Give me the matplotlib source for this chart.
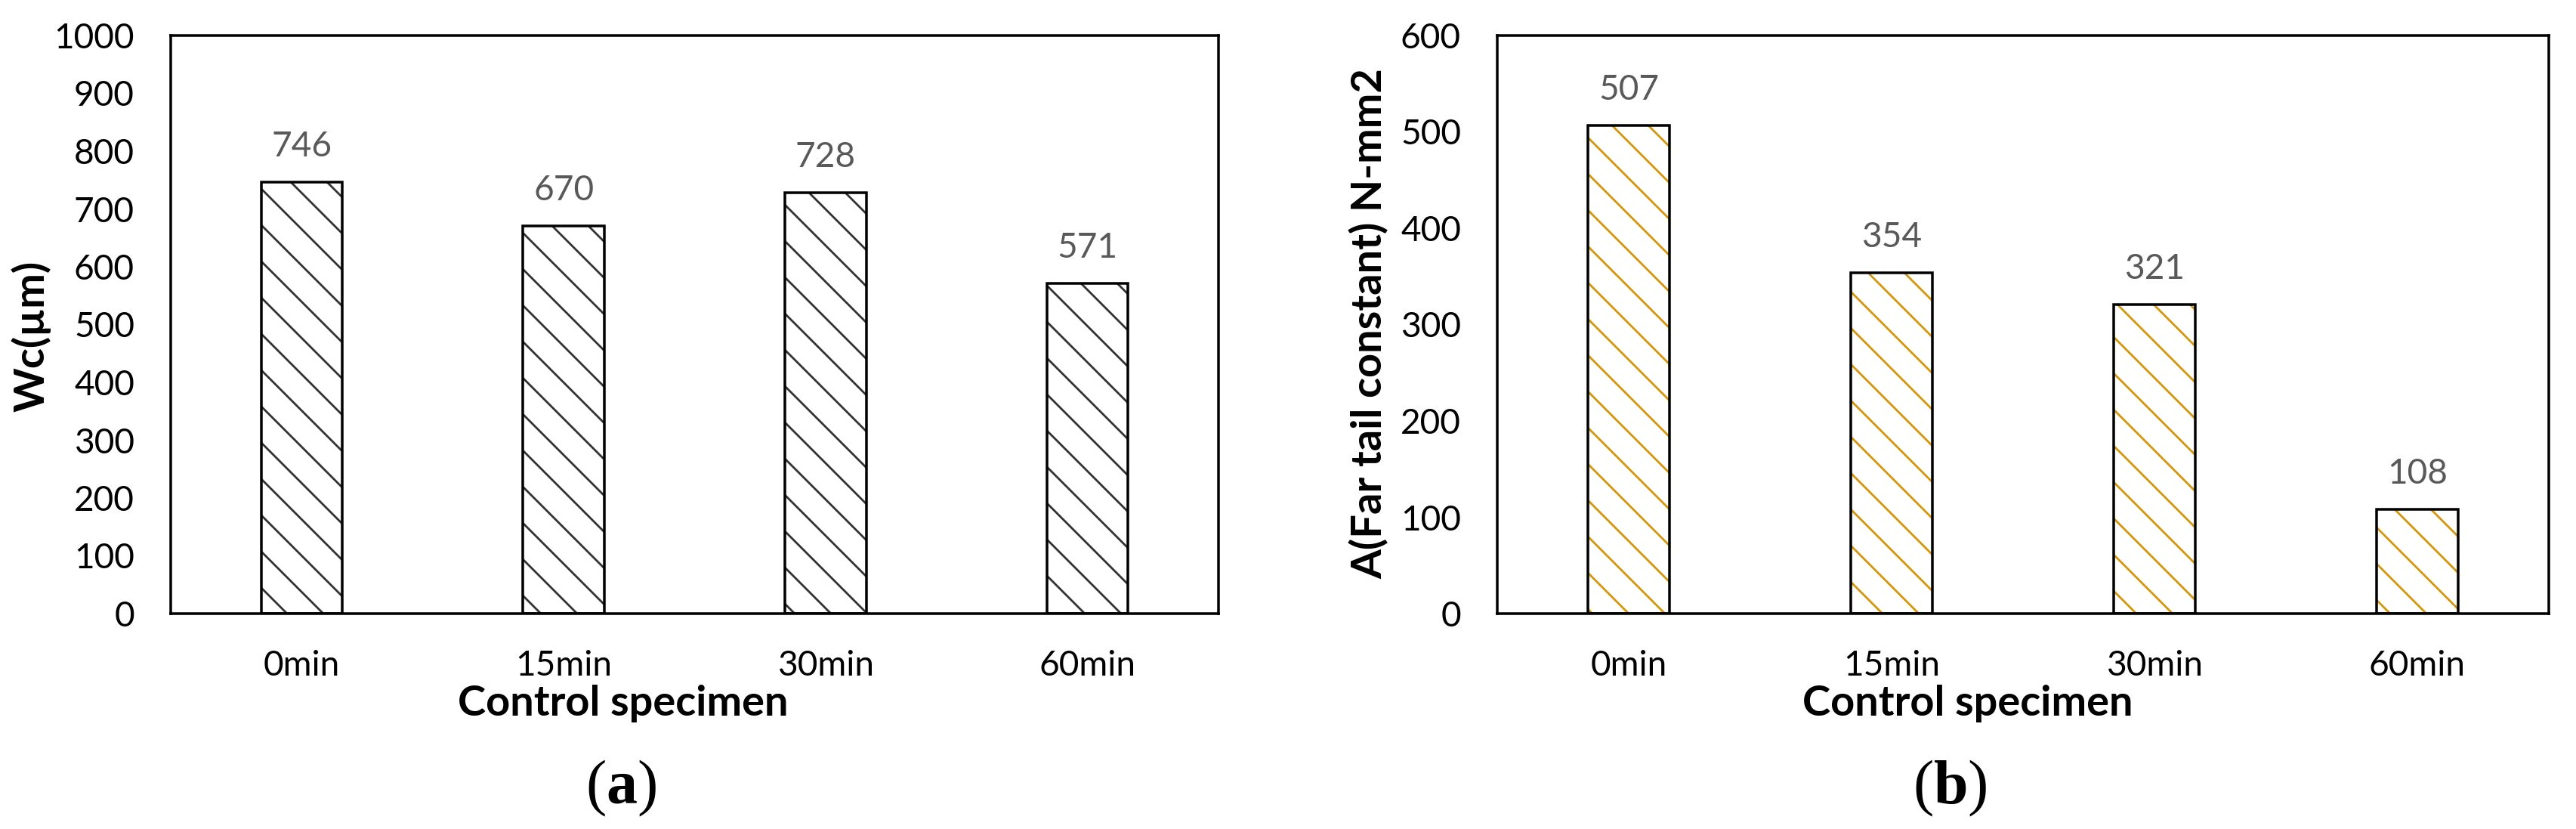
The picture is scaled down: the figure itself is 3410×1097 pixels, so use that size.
import matplotlib
matplotlib.use('Agg')
import matplotlib.pyplot as plt

# --- Data ---
CATEGORIES = ['0min', '15min', '30min', '60min']
WC_VALUES = [746, 670, 728, 571]          # panel (a), Wc in um
A_VALUES = [507, 354, 321, 108]           # panel (b), far tail constant
WC_TICKS = list(range(0, 1001, 100))
A_TICKS = list(range(0, 601, 100))

# --- Figure settings ---
DPI = 144
FIG_W, FIG_H = 3410, 1097   # pixels
OUTPUT_FILENAME = 'out.png'

plt.rcParams['font.family'] = ['Lato', 'DejaVu Sans']
plt.rcParams['mathtext.fontset'] = 'custom'
plt.rcParams['mathtext.rm'] = 'Liberation Serif'
plt.rcParams['mathtext.bf'] = 'Liberation Serif:bold'
plt.rcParams['hatch.linewidth'] = 1.4

TICK_SIZE = 23
LABEL_SIZE = 28
VALUE_COLOR = '#595959'


def px_box(x0, y0, x1, y1):
    """Pixel box (from top-left) -> figure fraction [left, bottom, w, h]."""
    return [x0 / FIG_W, 1 - y1 / FIG_H, (x1 - x0) / FIG_W, (y1 - y0) / FIG_H]


def fx(x):
    return x / FIG_W


def fy(y):
    return 1 - y / FIG_H


def draw_panel(ax, values, ticks, hatch_color):
    x = range(len(values))
    # hatch layer first, then a clean black outline on top
    ax.bar(x, values, width=0.31, color='white', edgecolor=hatch_color,
           hatch='\\', linewidth=0, zorder=2)
    ax.bar(x, values, width=0.31, color='none', edgecolor='black',
           linewidth=1.75, zorder=3)

    for i, v in enumerate(values):
        ax.annotate(str(v), (i, v), xytext=(0, 17), textcoords='offset points',
                    ha='center', va='baseline', fontsize=TICK_SIZE,
                    color=VALUE_COLOR)

    ax.set_xlim(-0.5, len(values) - 0.5)
    ax.set_ylim(ticks[0], ticks[-1])
    ax.set_yticks(ticks)
    ax.set_xticks(list(x))
    ax.set_xticklabels(CATEGORIES)
    ax.tick_params(axis='both', length=0, labelsize=TICK_SIZE)
    ax.tick_params(axis='x', pad=24)
    ax.tick_params(axis='y', pad=24)
    for s in ax.spines.values():
        s.set_linewidth(1.75)
        s.set_color('black')


fig = plt.figure(figsize=(FIG_W / DPI, FIG_H / DPI), dpi=DPI)
ax_a = fig.add_axes(px_box(226, 47, 1613, 812))
ax_b = fig.add_axes(px_box(1982, 47, 3374, 812))

draw_panel(ax_a, WC_VALUES, WC_TICKS, '#333333')
draw_panel(ax_b, A_VALUES, A_TICKS, '#D4960A')

# axis titles (placed like the Excel chart area, not the plot area)
fig.text(fx(41), fy(445), 'Wc(\u00b5m)', rotation=90, ha='center', va='center',
         fontsize=LABEL_SIZE, fontweight='bold')
fig.text(fx(1812), fy(428), 'A(Far tail constant) N-mm2', rotation=90,
         ha='center', va='center', fontsize=LABEL_SIZE, fontweight='bold')
fig.text(fx(825), fy(947), 'Control specimen', ha='center', va='baseline',
         fontsize=LABEL_SIZE, fontweight='bold')
fig.text(fx(2605), fy(947), 'Control specimen', ha='center', va='baseline',
         fontsize=LABEL_SIZE, fontweight='bold')

# panel captions
fig.text(fx(822), fy(1063), r'$(\mathbf{a})$', ha='center', va='baseline',
         fontsize=41)
fig.text(fx(2581), fy(1063), r'$(\mathbf{b})$', ha='center', va='baseline',
         fontsize=41)

fig.savefig(OUTPUT_FILENAME, dpi=DPI, facecolor='white')
